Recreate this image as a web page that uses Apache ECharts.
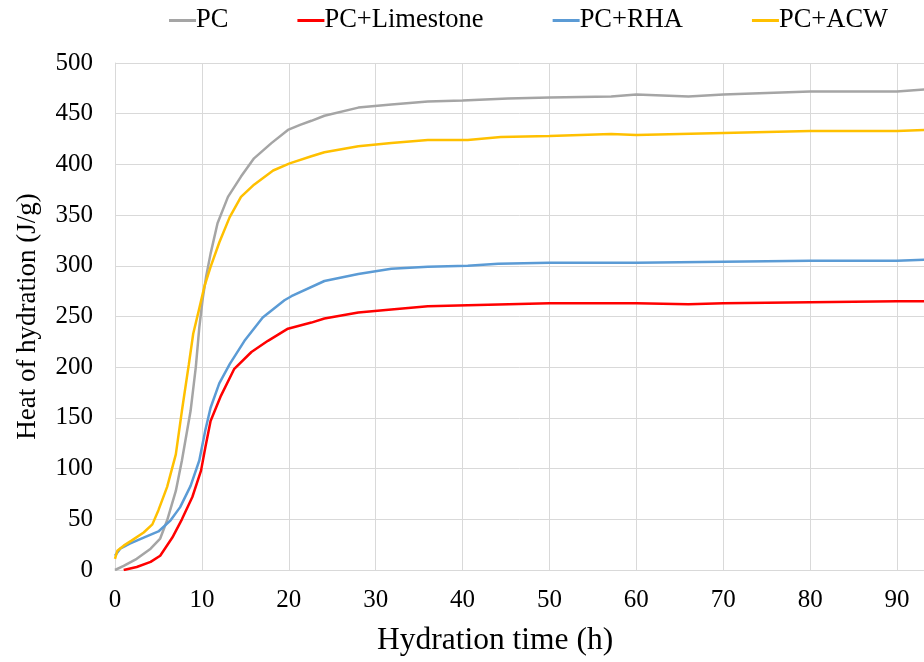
<!DOCTYPE html>
<html>
<head>
<meta charset="utf-8">
<script src="https://cdn.jsdelivr.net/npm/echarts@6/dist/echarts.min.js"></script>
<style>html,body{margin:0;padding:0;background:#fff}#c{width:924px;height:662px}</style>
</head>
<body>
<div id="c"></div>
<script>
const seriesNames = ['PC', 'PC+Limestone', 'PC+RHA', 'PC+ACW'];
const seriesColors = ['#A5A5A5', '#FF0000', '#5B9BD5', '#FFC000'];

const pcTime = [0, 1, 2.5, 4.1, 5.2, 6, 7, 7.7, 8.7, 9.3, 9.7, 10.1, 10.5, 11, 11.8, 13, 14.5, 16, 18, 19.9, 21.3, 22.6, 24.1, 28, 31.8, 36, 40, 45.2, 50, 57.1, 60, 66, 70, 80, 90, 93.5];
const pcHeat = [0, 4, 11, 21, 31, 49, 78, 108, 157, 200, 239, 268, 290, 312, 342, 368, 388, 406, 421, 434, 439, 443, 448, 456, 459, 462, 463, 465, 466, 467, 469, 467, 469, 472, 472, 474];

const limeTime = [1, 2.5, 4.1, 5.2, 6.6, 7.7, 8.9, 9.9, 10.4, 11, 12.2, 13.7, 15.7, 17.6, 19.9, 22.6, 24.1, 28, 31.8, 36, 40.6, 50, 57.1, 60, 66, 70, 80, 90, 93.5];
const limeHeat = [0, 3, 8, 14, 32, 50, 72, 98, 121, 147, 172, 198, 215, 226, 238, 244, 248, 254, 257, 260, 261, 263, 263, 263, 262, 263, 264, 265, 265];

const rhaTime = [0, 0.6, 1.7, 3.3, 5, 6.4, 7.5, 8.7, 9.7, 10.4, 11, 12, 13.2, 14.9, 17, 19.5, 20.3, 24.1, 28, 31.8, 36, 40.6, 44.1, 50, 57.1, 60, 70, 80, 90, 93.5];
const rhaHeat = [14, 21, 26, 32, 38, 49, 62, 83, 108, 138, 160, 184, 203, 226, 249, 266, 270, 285, 292, 297, 299, 300, 302, 303, 303, 303, 304, 305, 305, 306];

const acwTime = [0, 0.27, 1, 1.9, 3.3, 4.3, 5, 6, 7, 7.7, 8.5, 9, 9.7, 10.3, 11, 12, 13.2, 14.5, 16, 18.2, 20.1, 22.6, 24.1, 28, 31.8, 36, 40.6, 44.4, 50, 57.1, 60, 70, 80, 90, 93.5];
const acwHeat = [11, 19, 24, 29, 37, 45, 59, 82, 114, 157, 203, 233, 258, 280, 299, 323, 348, 368, 380, 394, 401, 408, 412, 418, 421, 424, 424, 427, 428, 430, 429, 431, 433, 433, 434];

const xTicks = [0, 10, 20, 30, 40, 50, 60, 70, 80, 90];
const yTicks = [0, 50, 100, 150, 200, 250, 300, 350, 400, 450, 500];
const xTitle = 'Hydration time (h)';
const yTitle = 'Heat of hydration (J/g)';

const times = [pcTime, limeTime, rhaTime, acwTime];
const heats = [pcHeat, limeHeat, rhaHeat, acwHeat];

const FONT = '"Liberation Serif", "Times New Roman", serif';
const chart = echarts.init(document.getElementById('c'), null, {renderer: 'canvas'});
chart.setOption({
  backgroundColor: '#fff',
  animation: false,
  title: {
    text: xTitle, left: 377, top: 625, padding: 0,
    textStyle: {fontFamily: FONT, fontSize: 31.5, fontWeight: 'normal', color: '#000'}
  },
  legend: {
    top: 2, left: 164, itemGap: 69, itemWidth: 27, itemHeight: 3,
    icon: 'rect',
    textStyle: {fontFamily: FONT, fontSize: 26.5, color: '#000', padding: [0, 0, 0, -5]},
    data: seriesNames
  },
  grid: {left: 115, right: 0, top: 63, bottom: 92},
  xAxis: {
    type: 'value', min: xTicks[0], max: 93.1, interval: 10,
    axisLine: {show: true, lineStyle: {color: '#D9D9D9', width: 1}},
    axisTick: {show: false},
    axisLabel: {fontFamily: FONT, fontSize: 25, color: '#000', margin: 18, showMaxLabel: false},
    splitLine: {show: true, lineStyle: {color: '#D9D9D9', width: 1}}
  },
  yAxis: {
    type: 'value', min: yTicks[0], max: yTicks[yTicks.length - 1], interval: 50,
    name: yTitle, nameLocation: 'middle', nameGap: 74,
    nameTextStyle: {fontFamily: FONT, fontSize: 27, color: '#000'},
    axisLine: {show: true, lineStyle: {color: '#D9D9D9', width: 1}},
    axisTick: {show: false},
    axisLabel: {fontFamily: FONT, fontSize: 25, color: '#000', margin: 22},
    splitLine: {show: true, lineStyle: {color: '#D9D9D9', width: 1}}
  },
  series: seriesNames.map((n, i) => ({
    name: n, type: 'line', showSymbol: false, symbol: 'none',
    color: seriesColors[i],
    lineStyle: {color: seriesColors[i], width: 2.5},
    data: times[i].map((t, j) => [t, heats[i][j]])
  }))
});
</script>
</body>
</html>
